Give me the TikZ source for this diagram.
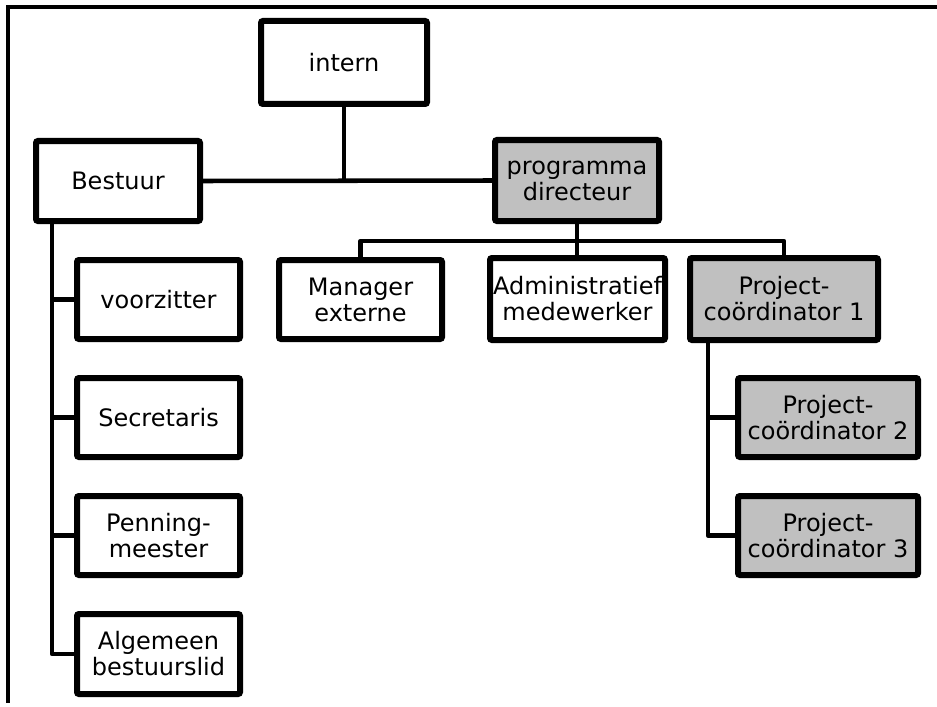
\documentclass[tikz,border=0pt]{standalone}
\usepackage{fontspec}
\setmainfont{DejaVu Sans}
\definecolor{boxgray}{HTML}{C0C0C0}
\begin{document}
\begin{tikzpicture}[x=0.75pt,y=-0.75pt,
  box/.style={draw=black, line width=4.5pt, rounded corners=1.5pt, fill=white,
    align=center, inner sep=0pt, text=black,
    font=\fontsize{18}{19.5}\selectfont},
  lead/.style={fill=boxgray},
  dim/.style 2 args={minimum width={(#1-6)*0.75pt}, minimum height={(#2-6)*0.75pt}},
  wire/.style={draw=black, line width=3.4pt, line join=round},
  frame/.style={draw=black, line width=2.6pt}]
\useasboundingbox (0,0) rectangle (937,706);

% page frame (open at right and bottom)
\draw[frame] (937,7) -- (8,7) -- (8,703);

% helper coordinates for the buses
\coordinate (busy) at (0,241);
\coordinate (btrunk) at (52,0);
\coordinate (ptrunk) at (708,0);

% boxes
\node[box, dim={172}{89}] (intern) at (344,62.5) {intern};
\node[box, dim={170}{86}] (bestuur) at (118,181) {Bestuur};
\node[box, lead, dim={170}{87}] (prog) at (577,180.5) {programma\\directeur};
\node[box, dim={169}{85}] (manager) at (360.5,299.5) {Manager\\externe};
\node[box, dim={181}{88}] (admin) at (577.5,299) {Administratief\\medewerker};
\node[box, lead, dim={194}{88}] (pc1) at (784,299) {Project-\\coördinator 1};
\node[box, dim={169}{85}] (voorz) at (158.5,299.5) {voorzitter};
\node[box, dim={169}{85}] (secr) at (158.5,417.5) {Secretaris};
\node[box, dim={169}{85}] (penn) at (158.5,535.5) {Penning-\\meester};
\node[box, dim={169}{86}] (alg) at (158.5,654) {Algemeen\\bestuurslid};
\node[box, lead, dim={186}{85}] (pc2) at (828,417.5) {Project-\\coördinator 2};
\node[box, lead, dim={186}{85}] (pc3) at (828,535.5) {Project-\\coördinator 3};

% connectors
\draw[wire] (intern.south) -- (intern.south |- bestuur.east);
\draw[wire] (bestuur.east) -- (prog.west);
\draw[wire] (prog.south) -- (prog.south |- admin.north);
\draw[wire] (manager.north) -- (manager.north |- busy) -- (pc1.north |- busy) -- (pc1.north);

\draw[wire] (btrunk |- bestuur.south) -- (btrunk |- alg.west) -- (alg.west);
\draw[wire] (btrunk |- voorz.west) -- (voorz.west);
\draw[wire] (btrunk |- secr.west) -- (secr.west);
\draw[wire] (btrunk |- penn.west) -- (penn.west);

\draw[wire] (ptrunk |- pc1.south) -- (ptrunk |- pc3.west) -- (pc3.west);
\draw[wire] (ptrunk |- pc2.west) -- (pc2.west);
\end{tikzpicture}
\end{document}
